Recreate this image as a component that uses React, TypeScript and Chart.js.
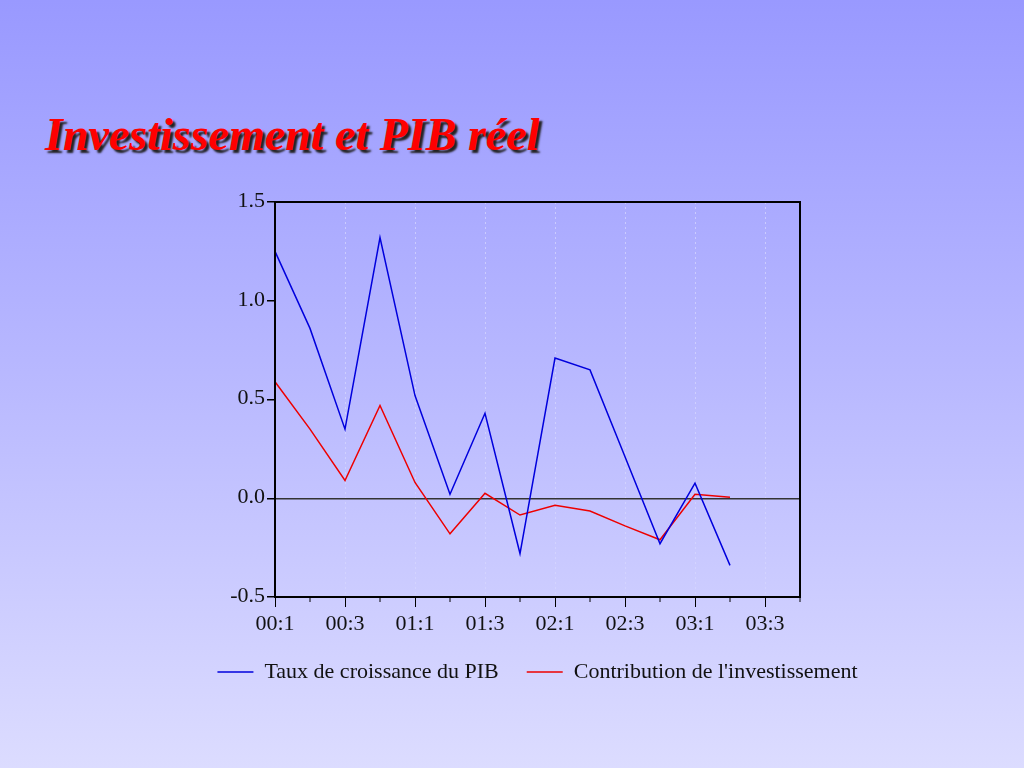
import React, { useEffect, useRef } from 'react';
import { Chart, registerables } from 'chart.js';

Chart.register(...registerables);

const quarters = [
  '00:1', '00:2', '00:3', '00:4',
  '01:1', '01:2', '01:3', '01:4',
  '02:1', '02:2', '02:3', '02:4',
  '03:1', '03:2', '03:3', '03:4',
];
const gdpGrowth = [1.25, 0.86, 0.35, 1.32, 0.52, 0.02, 0.43, -0.28, 0.71, 0.65, 0.21, -0.23, 0.076, -0.34];
const investContribution = [0.59, 0.35, 0.09, 0.47, 0.08, -0.18, 0.025, -0.085, -0.035, -0.065, -0.14, -0.21, 0.02, 0.005];
const yMin = -0.5;
const yMax = 1.5;
const yStep = 0.5;
const seriesNames = ['Taux de croissance du PIB', "Contribution de l'investissement"];
const titleText = 'Investissement et PIB réel';

const FONT = "'Liberation Serif', 'Times New Roman', serif";

const frameAndShortTicks = {
  id: 'frameAndShortTicks',
  afterDraw(chart: any) {
    const { ctx, chartArea } = chart;
    const xs = chart.scales.x;
    ctx.save();
    ctx.strokeStyle = '#000';
    ctx.lineWidth = 1;
    for (let i = 1; i < quarters.length; i += 2) {
      const px = xs.getPixelForTick(i);
      ctx.beginPath();
      ctx.moveTo(px, chartArea.bottom);
      ctx.lineTo(px, chartArea.bottom + 5);
      ctx.stroke();
    }
    ctx.lineWidth = 2;
    ctx.strokeStyle = '#000';
    ctx.strokeRect(chartArea.left, chartArea.top, chartArea.right - chartArea.left, chartArea.bottom - chartArea.top);
    ctx.restore();
  },
};

export default function App() {
  const ref = useRef<HTMLCanvasElement | null>(null);

  useEffect(() => {
    if (!ref.current) return;
    const chart = new Chart(ref.current, {
      type: 'line',
      data: {
        labels: quarters,
        datasets: [
          {
            label: seriesNames[0],
            data: gdpGrowth,
            borderColor: '#0000dd',
            backgroundColor: '#0000dd',
            borderWidth: 1.5,
            pointRadius: 0,
            tension: 0,
            fill: false,
          },
          {
            label: seriesNames[1],
            data: investContribution,
            borderColor: '#ee0000',
            backgroundColor: '#ee0000',
            borderWidth: 1.5,
            pointRadius: 0,
            tension: 0,
            fill: false,
          },
        ],
      },
      options: {
        animation: false,
        responsive: false,
        maintainAspectRatio: false,
        devicePixelRatio: 1,
        layout: { padding: { left: 0, right: 0, top: 202, bottom: 75 } },
        plugins: {
          title: { display: false },
          tooltip: { enabled: false },
          legend: {
            display: true,
            position: 'bottom',
            fullSize: true,
            labels: {
              usePointStyle: true,
              pointStyle: 'line',
              pointStyleWidth: 36,
              color: '#111',
              padding: 28,
              font: { family: FONT, size: 22 },
            },
          },
        },
        scales: {
          x: {
            type: 'category',
            offset: false,
            afterFit: (s: any) => { s.height = 36; },
            border: { display: false, dash: [2, 3] },
            grid: {
              display: true,
              drawOnChartArea: true,
              drawTicks: true,
              tickLength: 10,
              lineWidth: 1,
              color: (c: any) => (c.index > 0 && c.index < 15 && c.index % 2 === 0 ? 'rgba(215,215,255,0.75)' : 'rgba(0,0,0,0)'),
              tickColor: (c: any) => (c.index % 2 === 0 ? '#000' : 'rgba(0,0,0,0)'),
            },
            ticks: {
              autoSkip: false,
              maxRotation: 0,
              minRotation: 0,
              padding: 4,
              color: '#111',
              font: { family: FONT, size: 22 },
              callback: (_v: any, i: number) => (i % 2 === 0 && i < 15 ? quarters[i] : ''),
            },
          },
          y: {
            min: yMin,
            max: yMax,
            afterFit: (s: any) => { s.width = 275; },
            border: { display: false },
            grid: {
              display: true,
              drawOnChartArea: true,
              drawTicks: true,
              tickLength: 8,
              lineWidth: 1.5,
              color: (c: any) => (c.tick && c.tick.value === 0 ? '#333' : 'rgba(0,0,0,0)'),
              tickColor: '#000',
            },
            ticks: {
              stepSize: yStep,
              padding: 2,
              labelOffset: -1,
              color: '#111',
              font: { family: FONT, size: 22 },
              callback: (v: any) => Number(v).toFixed(1),
            },
          },
          spacer: {
            type: 'linear',
            position: 'right',
            min: 0,
            max: 1,
            afterFit: (s: any) => { s.width = 275; },
            border: { display: false },
            grid: { display: false, drawTicks: false },
            ticks: { display: false },
          },
        },
      },
      plugins: [frameAndShortTicks],
    });
    return () => chart.destroy();
  }, []);

  return (
    <div
      style={{
        position: 'fixed',
        left: 0,
        top: 0,
        width: 1024,
        height: 768,
        background: 'linear-gradient(to bottom, #9999ff 0%, #b9b9ff 50%, #dcdcff 100%)',
        overflow: 'hidden',
      }}
    >
      <div
        style={{
          position: 'absolute',
          left: 45,
          top: 108,
          fontFamily: FONT,
          fontWeight: 'bold',
          fontStyle: 'italic',
          fontSize: 46,
          lineHeight: '54px',
          color: '#ff0000',
          textShadow: '3px 3px 2px #222',
          whiteSpace: 'nowrap',
        }}
      >
        {titleText}
      </div>
      <canvas ref={ref} width={1075} height={768} style={{ position: 'absolute', left: 0, top: 0, width: 1075, height: 768 }} />
    </div>
  );
}
